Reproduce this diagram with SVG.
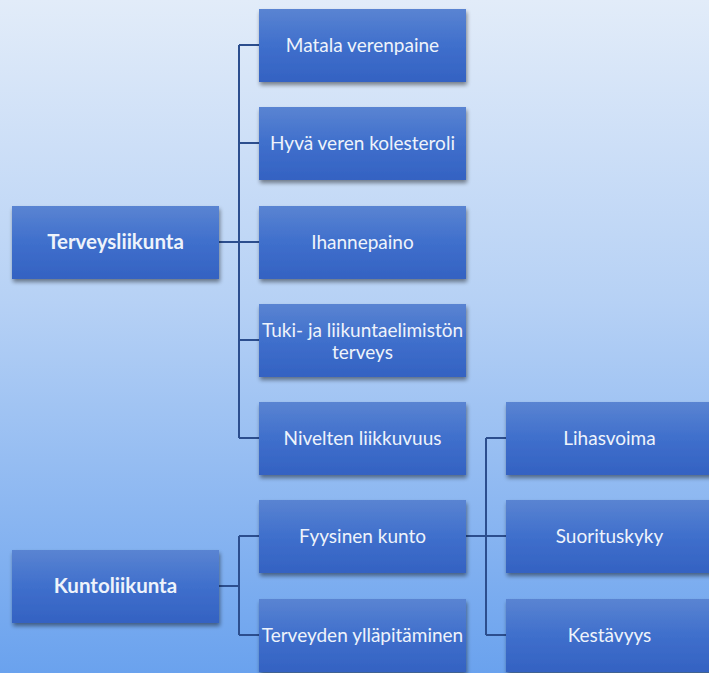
<svg xmlns="http://www.w3.org/2000/svg" width="709" height="673" viewBox="0 0 709 673">
<defs>
<linearGradient id="bg" x1="0" y1="0" x2="0" y2="1">
<stop offset="0" stop-color="#e2ecf9"/>
<stop offset="0.45" stop-color="#b6d1f5"/>
<stop offset="1" stop-color="#6aa2ee"/>
</linearGradient>
<linearGradient id="box" x1="0" y1="0" x2="0" y2="1">
<stop offset="0" stop-color="#5a84d2"/>
<stop offset="0.5" stop-color="#3f6fcc"/>
<stop offset="1" stop-color="#3462c2"/>
</linearGradient>
<filter id="sh" x="-10%" y="-10%" width="125%" height="140%">
<feGaussianBlur in="SourceAlpha" stdDeviation="2"/>
<feOffset dx="1" dy="3" result="b"/>
<feComponentTransfer><feFuncA type="linear" slope="0.45"/></feComponentTransfer>
<feMerge><feMergeNode/><feMergeNode in="SourceGraphic"/></feMerge>
</filter>
</defs>
<style>
.n rect{fill:url(#box);filter:url(#sh)}
.n text{font-family:Lato,"Open Sans","Liberation Sans",sans-serif;font-size:19px;fill:#eef3fb;text-anchor:middle}
.n text.b{font-weight:bold;font-size:20.5px}
.c{stroke:#2c4e8e;stroke-width:2;fill:none}
</style>
<rect x="0" y="0" width="709" height="673" fill="url(#bg)"/>
<g id="connectors">
<path class="c" d="M219 242H239M239 45V438M239 45H259M239 143H259M239 242H259M239 340H259M239 438H259"/>
<path class="c" d="M219 586H239M239 536V635M239 536H259M239 635H259"/>
<path class="c" d="M466 536H486M486 438V635M486 438H506M486 536H506M486 635H506"/>
</g>
<g id="terveysliikunta" class="n"><rect x="12" y="206" width="207" height="73"/><text class="b" x="115.5" y="249">Terveysliikunta</text></g>
<g id="kuntoliikunta" class="n"><rect x="12" y="550" width="207" height="73"/><text class="b" x="115.5" y="593">Kuntoliikunta</text></g>
<g id="matala" class="n"><rect x="259" y="9" width="207" height="73"/><text x="362.5" y="52">Matala verenpaine</text></g>
<g id="kolesteroli" class="n"><rect x="259" y="107" width="207" height="73"/><text x="362.5" y="150">Hyvä veren kolesteroli</text></g>
<g id="ihannepaino" class="n"><rect x="259" y="206" width="207" height="73"/><text x="362.5" y="249">Ihannepaino</text></g>
<g id="tuki" class="n"><rect x="259" y="304" width="207" height="73"/><text x="362.5" y="337">Tuki- ja liikuntaelimistön</text><text x="362.5" y="359">terveys</text></g>
<g id="nivelten" class="n"><rect x="259" y="402" width="207" height="73"/><text x="362.5" y="445">Nivelten liikkuvuus</text></g>
<g id="fyysinen" class="n"><rect x="259" y="500" width="207" height="73"/><text x="362.5" y="543">Fyysinen kunto</text></g>
<g id="yllapitaminen" class="n"><rect x="259" y="599" width="207" height="73"/><text x="362.5" y="642">Terveyden ylläpitäminen</text></g>
<g id="lihasvoima" class="n"><rect x="506" y="402" width="207" height="73"/><text x="609.5" y="445">Lihasvoima</text></g>
<g id="suorituskyky" class="n"><rect x="506" y="500" width="207" height="73"/><text x="609.5" y="543">Suorituskyky</text></g>
<g id="kestavyys" class="n"><rect x="506" y="599" width="207" height="73"/><text x="609.5" y="642">Kestävyys</text></g>
</svg>
